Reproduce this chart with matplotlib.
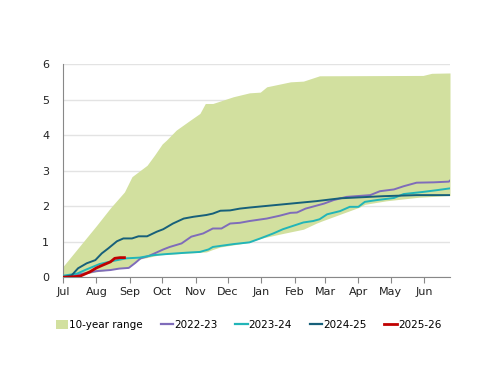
import numpy as np
import matplotlib
matplotlib.use("Agg")
import matplotlib.pyplot as plt
from matplotlib.patches import Patch
from matplotlib.lines import Line2D

# month labels, tick positions in days from Jul 1
months = ["Jul", "Aug", "Sep", "Oct", "Nov", "Dec", "Jan", "Feb", "Mar", "Apr", "May", "Jun"]
month_days = [0, 31, 62, 92, 123, 153, 184, 215, 243, 274, 304, 335]

# 10-year range
range_hi_days = [0, 31, 44, 57, 64, 78, 85, 92, 96, 105, 118, 127, 132, 139, 158, 173, 183, 189, 211, 223, 231, 238, 334, 342, 359]
range_hi_vals = [0.3, 1.45, 1.95, 2.4, 2.83, 3.15, 3.44, 3.75, 3.86, 4.14, 4.42, 4.61, 4.89, 4.89, 5.08, 5.19, 5.21, 5.36, 5.5, 5.52, 5.6, 5.67, 5.68, 5.74, 5.75]
range_lo_days = [0, 10, 31, 60, 70, 90, 133, 139, 146, 173, 183, 204, 223, 235, 240, 257, 275, 280, 300, 330, 359]
range_lo_vals = [0.0, 0.02, 0.15, 0.28, 0.5, 0.63, 0.71, 0.78, 0.85, 0.98, 1.09, 1.23, 1.35, 1.52, 1.58, 1.77, 1.97, 2.05, 2.15, 2.25, 2.3]

# seasons
d_2223 = [0, 19, 31, 44, 52, 61, 67, 72, 79, 85, 93, 99, 110, 119, 130, 139, 147, 155, 164, 173, 189, 201, 211, 217, 225, 242, 251, 263, 285, 294, 307, 316, 328, 344, 358, 359]
v_2223 = [0.0, 0.1, 0.17, 0.2, 0.24, 0.26, 0.4, 0.53, 0.59, 0.67, 0.78, 0.85, 0.95, 1.14, 1.23, 1.37, 1.37, 1.51, 1.53, 1.58, 1.65, 1.73, 1.81, 1.82, 1.93, 2.07, 2.17, 2.26, 2.31, 2.42, 2.47, 2.56, 2.66, 2.67, 2.69, 2.72]
d_2324 = [0, 13, 22, 34, 47, 59, 71, 84, 96, 115, 127, 135, 139, 158, 173, 183, 195, 204, 223, 232, 238, 245, 257, 266, 274, 280, 291, 307, 316, 334, 347, 359]
v_2324 = [0.04, 0.1, 0.22, 0.37, 0.46, 0.53, 0.55, 0.62, 0.65, 0.69, 0.71, 0.78, 0.85, 0.93, 0.98, 1.09, 1.23, 1.35, 1.54, 1.58, 1.63, 1.77, 1.86, 1.98, 1.98, 2.12, 2.17, 2.23, 2.34, 2.4, 2.45, 2.5]
d_2425 = [0, 8, 14, 22, 30, 36, 42, 50, 56, 64, 70, 78, 87, 93, 102, 112, 121, 133, 139, 146, 155, 164, 173, 204, 235, 257, 297, 328, 359]
v_2425 = [0.0, 0.05, 0.25, 0.39, 0.48, 0.67, 0.81, 1.01, 1.09, 1.09, 1.15, 1.15, 1.28, 1.35, 1.51, 1.65, 1.7, 1.75, 1.79, 1.87, 1.88, 1.93, 1.96, 2.05, 2.14, 2.22, 2.28, 2.31, 2.31]
d_2526 = [0, 6, 16, 25, 31, 37, 44, 48, 53, 57]
v_2526 = [0.0, 0.0, 0.03, 0.15, 0.26, 0.34, 0.43, 0.53, 0.55, 0.55]

c_range = "#d2e09f"
c_2223 = "#7f6cba"
c_2324 = "#22b5b8"
c_2425 = "#17607a"
c_2526 = "#c00000"

fig = plt.figure(figsize=(5, 3.86), dpi=100)
ax = fig.add_axes([0.126, 0.282, 0.774, 0.552])

# fill between on a common grid
grid = np.arange(0, 360)
hi = np.interp(grid, range_hi_days, range_hi_vals)
lo = np.interp(grid, range_lo_days, range_lo_vals)
ax.fill_between(grid, lo, hi, color=c_range, lw=0, zorder=1)

ax.plot(d_2223, v_2223, color=c_2223, lw=1.4, zorder=3)
ax.plot(d_2324, v_2324, color=c_2324, lw=1.4, zorder=3)
ax.plot(d_2425, v_2425, color=c_2425, lw=1.4, zorder=4)
ax.plot(d_2526, v_2526, color=c_2526, lw=2.0, zorder=5)

ax.set_xlim(0, 359)
ax.set_ylim(0, 6)
ax.set_yticks(range(0, 7))
ax.set_xticks(month_days)
ax.set_xticklabels(months)
ax.yaxis.grid(True, color="#e3e3e3", lw=1, zorder=0)
ax.set_axisbelow(True)
for s in ["top", "right"]:
    ax.spines[s].set_visible(False)
ax.spines["left"].set_color("#888888")
ax.spines["bottom"].set_color("#888888")
ax.tick_params(axis="y", length=0, pad=10, labelsize=8, colors="#222222")
ax.tick_params(axis="x", length=4, color="#888888", labelsize=8, colors="#222222", pad=3)

handles = [
    Patch(facecolor=c_range, edgecolor="none", label="10-year range"),
    Line2D([], [], color=c_2223, lw=1.6, label="2022-23"),
    Line2D([], [], color=c_2324, lw=1.6, label="2023-24"),
    Line2D([], [], color=c_2425, lw=1.6, label="2024-25"),
    Line2D([], [], color=c_2526, lw=2.0, label="2025-26"),
]
fig.legend(handles=handles, loc="center", bbox_to_anchor=(0.497, 0.158), ncol=5,
           frameon=False, fontsize=7.5, handlelength=1.2, handletextpad=0.1,
           columnspacing=1.7, handleheight=0.9)

fig.savefig("out.png", dpi=100)
